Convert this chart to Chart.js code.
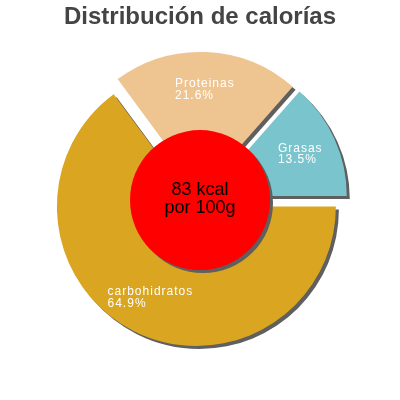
<!DOCTYPE html>
<html><head><meta charset="utf-8">
<script src="https://cdn.jsdelivr.net/npm/chart.js@4"></script>
<style>html,body{margin:0;padding:0;background:#fff;}#wrap{width:400px;height:400px;}</style>
</head><body><div id="wrap"><canvas id="c" width="400" height="400"></canvas></div>
<script>
const titleText = 'Distribución de calorías';
const categories = ['carbohidratos', 'Proteinas', 'Grasas'];
const values = [64.9, 21.6, 13.5];
const colors = ['#DAA520', '#EEC591', '#7AC5CD'];
const centerLines = ['83 kcal', 'por 100g'];

const EXPLODE = 8;

const shadowPlugin = {
  id: 'shadow',
  beforeDatasetDraw(chart, args) {
    const ctx = chart.ctx;
    ctx.save();
    ctx.shadowColor = 'rgba(95,95,95,1)';
    ctx.shadowOffsetX = 3;
    ctx.shadowOffsetY = 3;
    ctx.shadowBlur = 0;
    args.meta.data.forEach(arc => {
      const mid = (arc.startAngle + arc.endAngle) / 2;
      ctx.save();
      ctx.translate(Math.cos(mid) * EXPLODE, Math.sin(mid) * EXPLODE);
      arc.draw(ctx);
      ctx.restore();
    });
    ctx.restore();
    return false;
  },
  afterDatasetsDraw(chart) {
    const ctx = chart.ctx;
    const meta = chart.getDatasetMeta(0);
    const a0 = meta.data[0];
    const cx = a0.x, cy = a0.y;
    // slice labels
    ctx.save();
    ctx.font = '12px "Liberation Sans", Arial, sans-serif';
    if ('letterSpacing' in ctx) ctx.letterSpacing = '1px';
    ctx.fillStyle = '#ffffff';
    ctx.textBaseline = 'middle';
    ctx.textAlign = 'left';
    meta.data.forEach((arc, i) => {
      const mid = (arc.startAngle + arc.endAngle) / 2;
      const r = EXPLODE + 0.731 * arc.outerRadius;
      const px = cx + Math.cos(mid) * r;
      const py = cy + Math.sin(mid) * r;
      const l1 = categories[i];
      const l2 = values[i].toFixed(1) + '%';
      const w = Math.max(ctx.measureText(l1).width, ctx.measureText(l2).width);
      const x = px - w / 2;
      ctx.fillText(l1, x, py - 5.5);
      ctx.fillText(l2, x, py + 6);
    });
    ctx.restore();
    // center circle
    ctx.save();
    ctx.shadowColor = 'rgba(95,95,95,1)';
    ctx.shadowOffsetX = 3;
    ctx.shadowOffsetY = 3;
    ctx.beginPath();
    ctx.arc(cx, cy + 0.7, 70, 0, Math.PI * 2);
    ctx.fillStyle = '#FF0000';
    ctx.fill();
    ctx.restore();
    ctx.save();
    ctx.font = '18px "Liberation Sans", Arial, sans-serif';
    ctx.fillStyle = '#000000';
    ctx.textAlign = 'center';
    ctx.textBaseline = 'middle';
    ctx.fillText(centerLines[0], cx, cy - 9.5);
    ctx.fillText(centerLines[1], cx, cy + 8.5);
    ctx.restore();
  }
};

new Chart(document.getElementById('c'), {
  type: 'pie',
  data: {
    labels: categories,
    datasets: [{
      data: values,
      backgroundColor: colors,
      borderWidth: 0,
      offset: 0,
      hoverOffset: 0,
      radius: 139.5
    }]
  },
  options: {
    responsive: false,
    animation: false,
    events: [],
    rotation: 90,
    layout: { padding: { top: 0, bottom: 33, left: 0, right: 0 } },
    plugins: {
      legend: { display: false },
      tooltip: { enabled: false },
      title: {
        display: true,
        text: titleText,
        color: '#444444',
        font: { family: '"Liberation Sans", Arial, sans-serif', size: 24, weight: 'bold' },
        padding: { top: 3, bottom: 0 }
      }
    }
  },
  plugins: [shadowPlugin]
});
</script>
</body></html>
